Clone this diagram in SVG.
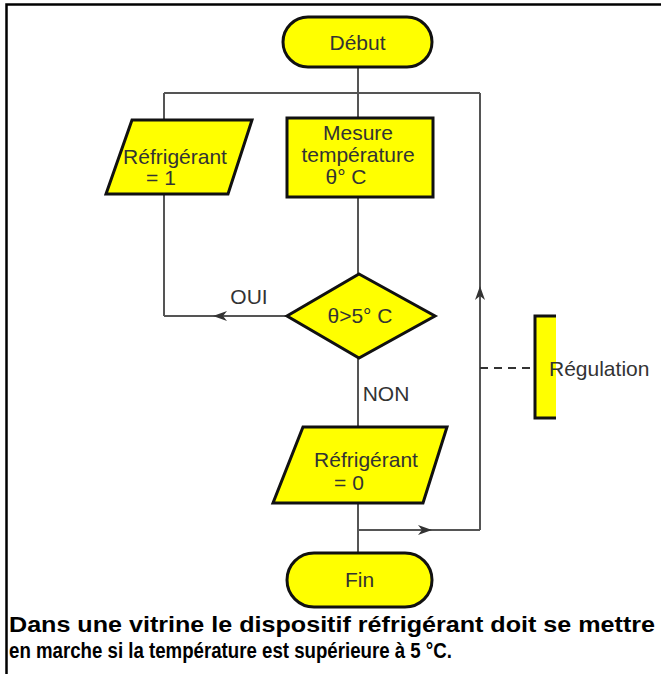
<svg xmlns="http://www.w3.org/2000/svg" width="661" height="674" viewBox="0 0 661 674">
<style>
.frame{fill:none;stroke:#000;stroke-width:2.5}
.node{fill:#ffff00;stroke:#111;stroke-width:3;stroke-linejoin:miter}
.lbl{font-family:"Liberation Sans",Arial,sans-serif;font-size:21px;fill:#333;text-anchor:middle}
.conn{fill:none;stroke:#555;stroke-width:2}
.dash{fill:none;stroke:#333;stroke-width:2;stroke-dasharray:8,6}
.cap{font-family:"Liberation Sans",Arial,sans-serif;font-size:22px;font-weight:bold;fill:#000}
</style>
<defs>
<marker id="arr" viewBox="0 0 14 10" refX="14" refY="5" markerWidth="14" markerHeight="10" markerUnits="userSpaceOnUse" orient="auto">
<path d="M0,0 L14,5 L0,10 L4,5 z" fill="#333"/>
</marker>
</defs>
<rect width="661" height="674" fill="#fff"/>
<path class="frame" d="M6.5,674 V4.5 H661"/>
<g id="connectors">
<path class="conn" d="M358,67 V274"/>
<path class="conn" d="M164,93 H480"/>
<path class="conn" d="M164,93 V316"/>
<path class="conn" d="M287,316 H213" marker-end="url(#arr)"/>
<path class="conn" d="M213,316 H164"/>
<path class="conn" d="M358,357 V553"/>
<path class="conn" d="M358,530 H432" marker-end="url(#arr)"/>
<path class="conn" d="M432,530 H480"/>
<path class="conn" d="M480,530 V286" marker-end="url(#arr)"/>
<path class="conn" d="M480,286 V93"/>
<path class="dash" d="M480,368 H535"/>
</g>
<g id="debut">
<rect class="node" x="283" y="17" width="149" height="50" rx="25" ry="25"/>
<text class="lbl" x="357.5" y="50">Début</text>
</g>
<g id="refrigerant1">
<path class="node" d="M132,120 H252 L228,194 H106 Z"/>
<text class="lbl" x="175" y="164">Réfrigérant</text>
<text class="lbl" x="161" y="185">= 1</text>
</g>
<g id="mesure">
<rect class="node" x="287" y="118" width="146" height="79"/>
<text class="lbl" x="358" y="140">Mesure</text>
<text class="lbl" x="358" y="162">température</text>
<text class="lbl" x="346" y="184">θ° C</text>
</g>
<g id="decision">
<path class="node" d="M359,274 L435,316 L359,358 L287,316 Z"/>
<text class="lbl" x="360" y="323">θ&gt;5° C</text>
</g>
<text class="lbl" x="249" y="304">OUI</text>
<text class="lbl" x="386" y="401">NON</text>
<g id="refrigerant0">
<path class="node" d="M303,427 H447 L423,503 H273 Z"/>
<text class="lbl" x="366" y="467">Réfrigérant</text>
<text class="lbl" x="349" y="490">= 0</text>
</g>
<g id="fin">
<rect class="node" x="287" y="553" width="145" height="54" rx="27" ry="27"/>
<text class="lbl" x="359.5" y="587">Fin</text>
</g>
<g id="regulation">
<rect x="535" y="316" width="21" height="102" fill="#ffff00"/>
<path fill="none" stroke="#111" stroke-width="3" d="M556,316 H535 V418 H556"/>
<text class="lbl" x="549" y="376" style="text-anchor:start">Régulation</text>
</g>
<text class="cap" x="9" y="632" textLength="646" lengthAdjust="spacingAndGlyphs">Dans une vitrine le dispositif réfrigérant doit se mettre</text>
<text class="cap" x="9" y="658" textLength="443" lengthAdjust="spacingAndGlyphs">en marche si la température est supérieure à 5 °C.</text>
</svg>
